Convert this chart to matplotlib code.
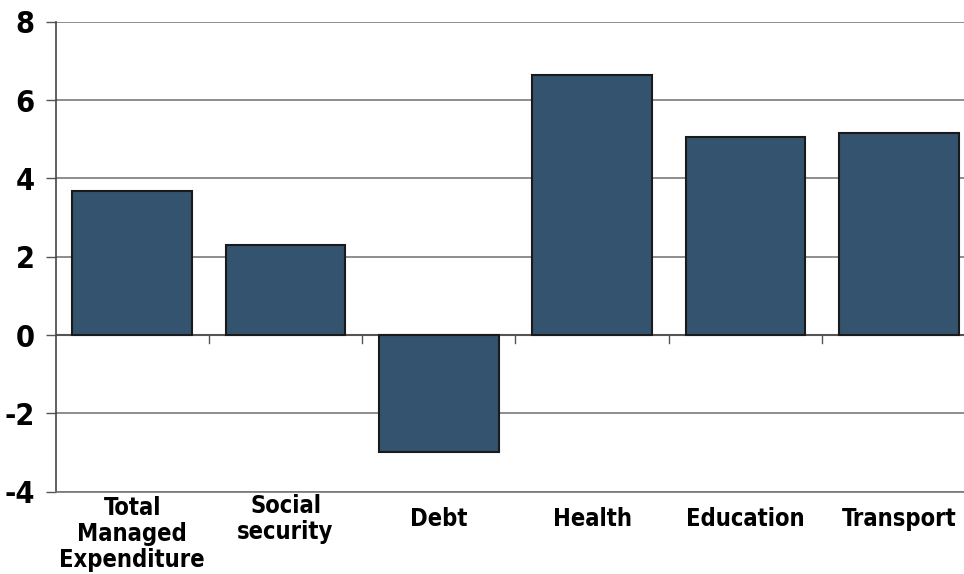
import matplotlib
matplotlib.use("Agg")
import matplotlib.pyplot as plt
from matplotlib import font_manager
from matplotlib.transforms import blended_transform_factory, offset_copy

categories = ["Total\nManaged\nExpenditure", "Social\nsecurity", "Debt", "Health", "Education", "Transport"]
values = [3.68, 2.30, -2.98, 6.64, 5.06, 5.16]
yticks = [-4, -2, 0, 2, 4, 6, 8]

names = {f.name for f in font_manager.fontManager.ttflist}
fam = "Liberation Sans Narrow" if "Liberation Sans Narrow" in names else "DejaVu Sans"
plt.rcParams["font.family"] = [fam, "DejaVu Sans"]
plt.rcParams["font.stretch"] = "condensed"

fig = plt.figure(figsize=(9.64, 5.74), dpi=100)
ax = fig.add_axes([55.5 / 964, 1 - 491.7 / 574, 920 / 964, (491.7 - 21.7) / 574])

x = list(range(len(categories)))
ax.bar(x, values, width=0.78, color="#33536e", edgecolor="#1a1a1a", linewidth=1.5, zorder=3)

ax.set_xlim(-0.5, len(categories) - 0.5)
ax.set_ylim(-4, 8)
ax.set_yticks(yticks)
ax.set_yticklabels([str(v) for v in yticks], fontsize=22, fontweight="bold", fontstretch="condensed")
ax.yaxis.grid(True, color="#7a7a7a", linewidth=1.2, zorder=0)
ax.set_axisbelow(True)
ax.tick_params(axis="y", length=7, width=1, color="#555555", pad=8)

# zero line with tick marks between categories
ax.axhline(0, color="#555555", linewidth=1.5, zorder=2)
for b in [i + 0.5 for i in x[:-1]]:
    ax.plot([b, b], [0, -0.2], color="#555555", linewidth=1, zorder=2, clip_on=False)

ax.set_xticks(x)
ax.set_xticklabels([])
ax.tick_params(axis="x", length=0)
base = blended_transform_factory(ax.transData, ax.transAxes)
for xi, lab in zip(x, categories):
    nlines = lab.count("\n") + 1
    off = -27 if nlines <= 2 else -42   # pixels below the bottom of the axes
    tr = offset_copy(base, fig=fig, x=0, y=off * 72 / 100, units="points")
    ax.text(xi, 0, lab, transform=tr, ha="center", va="center", fontsize=17,
            fontweight="bold", fontstretch="condensed", linespacing=1.1, clip_on=False)

for s in ["top", "right"]:
    ax.spines[s].set_visible(False)
ax.spines["left"].set_color("#444444")
ax.spines["left"].set_linewidth(1.2)
ax.spines["bottom"].set_color("#777777")
ax.spines["bottom"].set_linewidth(1.2)

fig.savefig("out.png", dpi=100)
